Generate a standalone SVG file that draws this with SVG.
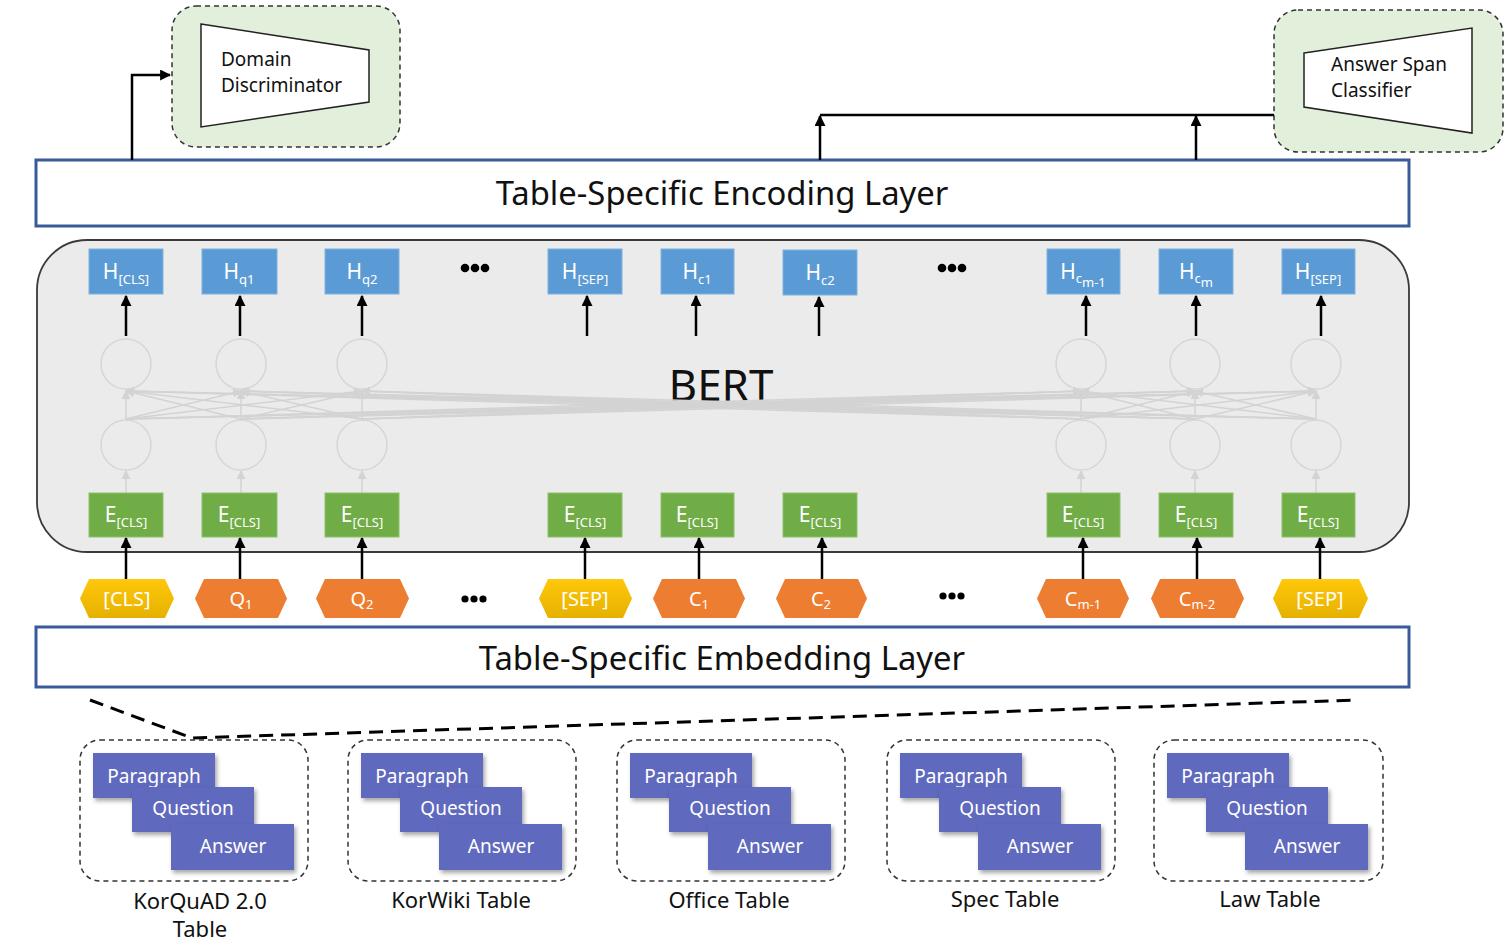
<svg xmlns="http://www.w3.org/2000/svg" width="1508" height="944" viewBox="0 0 1508 944">
<style>
text{font-family:"Noto Sans","Liberation Sans",sans-serif;}
.dbox{fill:#e2efda;stroke:#333;stroke-width:1.5;stroke-dasharray:5 4;}
.trap{fill:#fff;stroke:#222;stroke-width:1.5;}
.lbl{font-size:19px;fill:#111;}
.layer{fill:#fff;stroke:#3b5a9a;stroke-width:3;}
.layertxt{font-size:32.8px;fill:#111;text-anchor:middle;}
.hb{fill:#5b9bd5;stroke:#7fb2e0;stroke-width:1;}
.eb{fill:#70ad47;stroke:#8cc266;stroke-width:1;}
.bt{font-size:21px;fill:#fff;text-anchor:middle;}
.sub{font-size:13px;}
.ora{fill:#ed7d31;}
.yel{fill:url(#yg);}
.tt{font-size:20px;fill:#fff;text-anchor:middle;}
.circ{fill:none;stroke:#d6d6d6;stroke-width:1.5;}
.gl{stroke:#d3d3d3;stroke-width:1.5;fill:none;marker-end:url(#ga);}
.ar{stroke:#000;stroke-width:2.5;fill:none;marker-end:url(#ba);}
.ds{fill:#fff;stroke:#333;stroke-width:1.5;stroke-dasharray:5 4;}
.pr{fill:#5f69bd;filter:url(#sh);}
.pt{font-size:19px;fill:#fff;text-anchor:middle;}
.dl{font-size:22px;fill:#111;text-anchor:middle;}
.dot{fill:#000;}
</style>
<defs>
<linearGradient id="yg" x1="0" y1="0" x2="0" y2="1"><stop offset="0" stop-color="#ffc80a"/><stop offset="1" stop-color="#e6b000"/></linearGradient>
<marker id="ba" viewBox="0 0 10 10" refX="9" refY="5" markerWidth="11" markerHeight="11" markerUnits="userSpaceOnUse" orient="auto"><path d="M0,0 L10,5 L0,10 z" fill="#000"/></marker>
<marker id="ga" viewBox="0 0 10 10" refX="9" refY="5" markerWidth="9" markerHeight="9" markerUnits="userSpaceOnUse" orient="auto"><path d="M0,0 L10,5 L0,10 z" fill="#d3d3d3"/></marker>
<filter id="sh" x="-10%" y="-10%" width="125%" height="130%"><feDropShadow dx="2" dy="3" stdDeviation="2" flood-color="#000" flood-opacity="0.35"/></filter>
</defs>

<g id="domain-discriminator">
<rect class="dbox" x="172" y="6" width="228" height="141" rx="24"/>
<polygon class="trap" points="201,24 369,50 369,102 201,127"/>
<text class="lbl" x="221" y="66">Domain</text>
<text class="lbl" x="221" y="92">Discriminator</text>
</g>

<g id="answer-span-classifier">
<rect class="dbox" x="1274" y="10" width="229" height="142" rx="24"/>
<polygon class="trap" points="1304,53 1472,28 1472,133 1304,107"/>
<text class="lbl" x="1331" y="71">Answer Span</text>
<text class="lbl" x="1331" y="97">Classifier</text>
</g>

<g id="encoding-layer">
<rect class="layer" x="36" y="160" width="1373" height="66"/>
<text class="layertxt" x="722" y="205">Table-Specific Encoding Layer</text>
</g>

<g id="bert">
<rect x="37" y="240" width="1372" height="312" rx="50" fill="#ebebeb" stroke="#3a3a3a" stroke-width="1.8"/>
<text x="721" y="401" font-size="44" fill="#111" text-anchor="middle">BERT</text>
<circle class="circ" cx="126" cy="364" r="25"/><circle class="circ" cx="126" cy="445" r="25"/>
<circle class="circ" cx="241" cy="364" r="25"/><circle class="circ" cx="241" cy="445" r="25"/>
<circle class="circ" cx="362" cy="364" r="25"/><circle class="circ" cx="362" cy="445" r="25"/>
<circle class="circ" cx="1081" cy="364" r="25"/><circle class="circ" cx="1081" cy="445" r="25"/>
<circle class="circ" cx="1195" cy="364" r="25"/><circle class="circ" cx="1195" cy="445" r="25"/>
<circle class="circ" cx="1316" cy="364" r="25"/><circle class="circ" cx="1316" cy="445" r="25"/>
<circle class="dot" cx="465" cy="268" r="4.3"/><circle class="dot" cx="475" cy="268" r="4.3"/><circle class="dot" cx="485" cy="268" r="4.3"/>
<circle class="dot" cx="942" cy="268" r="4.3"/><circle class="dot" cx="952" cy="268" r="4.3"/><circle class="dot" cx="962" cy="268" r="4.3"/>
</g>

<g id="connectors">
<g>
<line class="gl" x1="126" y1="419" x2="126" y2="391"/><line class="gl" x1="126" y1="419" x2="241" y2="391"/><line class="gl" x1="126" y1="419" x2="362" y2="391"/><line class="gl" x1="126" y1="419" x2="1081" y2="391"/><line class="gl" x1="126" y1="419" x2="1195" y2="391"/><line class="gl" x1="126" y1="419" x2="1316" y2="391"/>
<line class="gl" x1="241" y1="419" x2="126" y2="391"/><line class="gl" x1="241" y1="419" x2="241" y2="391"/><line class="gl" x1="241" y1="419" x2="362" y2="391"/><line class="gl" x1="241" y1="419" x2="1081" y2="391"/><line class="gl" x1="241" y1="419" x2="1195" y2="391"/><line class="gl" x1="241" y1="419" x2="1316" y2="391"/>
<line class="gl" x1="362" y1="419" x2="126" y2="391"/><line class="gl" x1="362" y1="419" x2="241" y2="391"/><line class="gl" x1="362" y1="419" x2="362" y2="391"/><line class="gl" x1="362" y1="419" x2="1081" y2="391"/><line class="gl" x1="362" y1="419" x2="1195" y2="391"/><line class="gl" x1="362" y1="419" x2="1316" y2="391"/>
<line class="gl" x1="1081" y1="419" x2="126" y2="391"/><line class="gl" x1="1081" y1="419" x2="241" y2="391"/><line class="gl" x1="1081" y1="419" x2="362" y2="391"/><line class="gl" x1="1081" y1="419" x2="1081" y2="391"/><line class="gl" x1="1081" y1="419" x2="1195" y2="391"/><line class="gl" x1="1081" y1="419" x2="1316" y2="391"/>
<line class="gl" x1="1195" y1="419" x2="126" y2="391"/><line class="gl" x1="1195" y1="419" x2="241" y2="391"/><line class="gl" x1="1195" y1="419" x2="362" y2="391"/><line class="gl" x1="1195" y1="419" x2="1081" y2="391"/><line class="gl" x1="1195" y1="419" x2="1195" y2="391"/><line class="gl" x1="1195" y1="419" x2="1316" y2="391"/>
<line class="gl" x1="1316" y1="419" x2="126" y2="391"/><line class="gl" x1="1316" y1="419" x2="241" y2="391"/><line class="gl" x1="1316" y1="419" x2="362" y2="391"/><line class="gl" x1="1316" y1="419" x2="1081" y2="391"/><line class="gl" x1="1316" y1="419" x2="1195" y2="391"/><line class="gl" x1="1316" y1="419" x2="1316" y2="391"/>
<line class="gl" x1="126" y1="493" x2="126" y2="471"/><line class="gl" x1="241" y1="493" x2="241" y2="471"/><line class="gl" x1="362" y1="493" x2="362" y2="471"/><line class="gl" x1="1081" y1="493" x2="1081" y2="471"/><line class="gl" x1="1195" y1="493" x2="1195" y2="471"/><line class="gl" x1="1316" y1="493" x2="1316" y2="471"/>
</g>
<line class="ar" x1="126" y1="336" x2="126" y2="296"/>
<line class="ar" x1="240" y1="336" x2="240" y2="296"/>
<line class="ar" x1="362" y1="336" x2="362" y2="296"/>
<line class="ar" x1="587" y1="336" x2="587" y2="296"/>
<line class="ar" x1="696" y1="336" x2="696" y2="296"/>
<line class="ar" x1="819" y1="336" x2="819" y2="297"/>
<line class="ar" x1="1086" y1="336" x2="1086" y2="296"/>
<line class="ar" x1="1196" y1="336" x2="1196" y2="296"/>
<line class="ar" x1="1321" y1="336" x2="1321" y2="296"/>
<line class="ar" x1="126" y1="579" x2="126" y2="538"/>
<line class="ar" x1="240" y1="579" x2="240" y2="538"/>
<line class="ar" x1="362" y1="579" x2="362" y2="538"/>
<line class="ar" x1="585" y1="579" x2="585" y2="538"/>
<line class="ar" x1="699" y1="579" x2="699" y2="538"/>
<line class="ar" x1="822" y1="579" x2="822" y2="538"/>
<line class="ar" x1="1083" y1="579" x2="1083" y2="538"/>
<line class="ar" x1="1197" y1="579" x2="1197" y2="538"/>
<line class="ar" x1="1320" y1="579" x2="1320" y2="538"/>
<polyline class="ar" points="132,160 132,75 170,75"/>
<line x1="1274" y1="115" x2="820" y2="115" stroke="#000" stroke-width="2.5"/>
<line class="ar" x1="820" y1="160" x2="820" y2="116"/>
<line class="ar" x1="1196" y1="160" x2="1196" y2="116"/>
<polyline points="90,700 192,738 1357,700" fill="none" stroke="#000" stroke-width="3" stroke-dasharray="14 8"/>
</g>

<g id="h-cls"><rect class="hb" x="89" y="249" width="74" height="45"/><text class="bt" x="126" y="279">H<tspan class="sub" dy="5">[CLS]</tspan></text></g>
<g id="h-q1"><rect class="hb" x="202" y="249" width="75" height="45"/><text class="bt" x="239" y="279">H<tspan class="sub" dy="5">q1</tspan></text></g>
<g id="h-q2"><rect class="hb" x="325" y="249" width="74" height="45"/><text class="bt" x="362" y="279">H<tspan class="sub" dy="5">q2</tspan></text></g>
<g id="h-sep1"><rect class="hb" x="548" y="249" width="74" height="45"/><text class="bt" x="585" y="279">H<tspan class="sub" dy="5">[SEP]</tspan></text></g>
<g id="h-c1"><rect class="hb" x="661" y="249" width="73" height="45"/><text class="bt" x="697" y="279">H<tspan class="sub" dy="5">c1</tspan></text></g>
<g id="h-c2"><rect class="hb" x="783" y="250" width="74" height="45"/><text class="bt" x="820" y="280">H<tspan class="sub" dy="5">c2</tspan></text></g>
<g id="h-cm1"><rect class="hb" x="1047" y="249" width="73" height="45"/><text class="bt" x="1083" y="279">H<tspan class="sub" dy="4">c</tspan><tspan class="sub" dy="4">m-1</tspan></text></g>
<g id="h-cm"><rect class="hb" x="1159" y="249" width="74" height="45"/><text class="bt" x="1196" y="279">H<tspan class="sub" dy="4">c</tspan><tspan class="sub" dy="4">m</tspan></text></g>
<g id="h-sep2"><rect class="hb" x="1282" y="249" width="73" height="45"/><text class="bt" x="1318" y="279">H<tspan class="sub" dy="5">[SEP]</tspan></text></g>

<g id="e-1"><rect class="eb" x="89" y="493" width="74" height="44"/><text class="bt" x="126" y="522">E<tspan class="sub" dy="5">[CLS]</tspan></text></g>
<g id="e-2"><rect class="eb" x="202" y="493" width="75" height="44"/><text class="bt" x="239" y="522">E<tspan class="sub" dy="5">[CLS]</tspan></text></g>
<g id="e-3"><rect class="eb" x="325" y="493" width="74" height="44"/><text class="bt" x="362" y="522">E<tspan class="sub" dy="5">[CLS]</tspan></text></g>
<g id="e-4"><rect class="eb" x="548" y="493" width="74" height="44"/><text class="bt" x="585" y="522">E<tspan class="sub" dy="5">[CLS]</tspan></text></g>
<g id="e-5"><rect class="eb" x="661" y="493" width="73" height="44"/><text class="bt" x="697" y="522">E<tspan class="sub" dy="5">[CLS]</tspan></text></g>
<g id="e-6"><rect class="eb" x="783" y="493" width="74" height="44"/><text class="bt" x="820" y="522">E<tspan class="sub" dy="5">[CLS]</tspan></text></g>
<g id="e-7"><rect class="eb" x="1047" y="493" width="73" height="44"/><text class="bt" x="1083" y="522">E<tspan class="sub" dy="5">[CLS]</tspan></text></g>
<g id="e-8"><rect class="eb" x="1159" y="493" width="74" height="44"/><text class="bt" x="1196" y="522">E<tspan class="sub" dy="5">[CLS]</tspan></text></g>
<g id="e-9"><rect class="eb" x="1282" y="493" width="73" height="44"/><text class="bt" x="1318" y="522">E<tspan class="sub" dy="5">[CLS]</tspan></text></g>

<g id="tok-cls"><polygon class="yel" points="80,598.5 89,579 165,579 174,598.5 165,618 89,618"/><text class="tt" x="127" y="606">[CLS]</text></g>
<g id="tok-q1"><polygon class="ora" points="195,598.5 204,579 278,579 287,598.5 278,618 204,618"/><text class="tt" x="241" y="606">Q<tspan class="sub" dy="3">1</tspan></text></g>
<g id="tok-q2"><polygon class="ora" points="316,598.5 325,579 400,579 409,598.5 400,618 325,618"/><text class="tt" x="362" y="606">Q<tspan class="sub" dy="3">2</tspan></text></g>
<g id="dots1"><circle class="dot" cx="465" cy="599" r="3.6"/><circle class="dot" cx="474" cy="599" r="3.6"/><circle class="dot" cx="483" cy="599" r="3.6"/></g>
<g id="tok-sep1"><polygon class="yel" points="539,598.5 548,579 623,579 632,598.5 623,618 548,618"/><text class="tt" x="585" y="606">[SEP]</text></g>
<g id="tok-c1"><polygon class="ora" points="653,598.5 662,579 736,579 745,598.5 736,618 662,618"/><text class="tt" x="699" y="606">C<tspan class="sub" dy="3">1</tspan></text></g>
<g id="tok-c2"><polygon class="ora" points="776,598.5 785,579 858,579 867,598.5 858,618 785,618"/><text class="tt" x="821" y="606">C<tspan class="sub" dy="3">2</tspan></text></g>
<g id="dots2"><circle class="dot" cx="943" cy="596" r="3.6"/><circle class="dot" cx="952" cy="596" r="3.6"/><circle class="dot" cx="961" cy="596" r="3.6"/></g>
<g id="tok-cm1"><polygon class="ora" points="1037,598.5 1046,579 1120,579 1129,598.5 1120,618 1046,618"/><text class="tt" x="1083" y="606">C<tspan class="sub" dy="3">m-1</tspan></text></g>
<g id="tok-cm2"><polygon class="ora" points="1151,598.5 1160,579 1235,579 1244,598.5 1235,618 1160,618"/><text class="tt" x="1197" y="606">C<tspan class="sub" dy="3">m-2</tspan></text></g>
<g id="tok-sep2"><polygon class="yel" points="1273,598.5 1282,579 1359,579 1368,598.5 1359,618 1282,618"/><text class="tt" x="1320" y="606">[SEP]</text></g>

<g id="embedding-layer">
<rect class="layer" x="36" y="627" width="1373" height="60"/>
<text class="layertxt" x="722" y="670">Table-Specific Embedding Layer</text>
</g>

<g id="ds-korquad">
<rect class="ds" x="80" y="740" width="228" height="141" rx="20"/>
<rect class="pr" x="93" y="753" width="122" height="45"/><text class="pt" x="154" y="783">Paragraph</text>
<rect class="pr" x="132" y="787" width="122" height="45"/><text class="pt" x="193" y="815">Question</text>
<rect class="pr" x="171" y="824" width="123" height="46"/><text class="pt" x="233" y="853">Answer</text>
<text class="dl" x="200" y="909">KorQuAD 2.0</text><text class="dl" x="200" y="937">Table</text>
</g>
<g id="ds-korwiki">
<rect class="ds" x="348" y="740" width="228" height="141" rx="20"/>
<rect class="pr" x="361" y="753" width="122" height="45"/><text class="pt" x="422" y="783">Paragraph</text>
<rect class="pr" x="400" y="787" width="122" height="45"/><text class="pt" x="461" y="815">Question</text>
<rect class="pr" x="439" y="824" width="123" height="46"/><text class="pt" x="501" y="853">Answer</text>
<text class="dl" x="461" y="908">KorWiki Table</text>
</g>
<g id="ds-office">
<rect class="ds" x="617" y="740" width="228" height="141" rx="20"/>
<rect class="pr" x="630" y="753" width="122" height="45"/><text class="pt" x="691" y="783">Paragraph</text>
<rect class="pr" x="669" y="787" width="122" height="45"/><text class="pt" x="730" y="815">Question</text>
<rect class="pr" x="708" y="824" width="123" height="46"/><text class="pt" x="770" y="853">Answer</text>
<text class="dl" x="729" y="908">Office Table</text>
</g>
<g id="ds-spec">
<rect class="ds" x="887" y="740" width="228" height="141" rx="20"/>
<rect class="pr" x="900" y="753" width="122" height="45"/><text class="pt" x="961" y="783">Paragraph</text>
<rect class="pr" x="939" y="787" width="122" height="45"/><text class="pt" x="1000" y="815">Question</text>
<rect class="pr" x="978" y="824" width="123" height="46"/><text class="pt" x="1040" y="853">Answer</text>
<text class="dl" x="1005" y="907">Spec Table</text>
</g>
<g id="ds-law">
<rect class="ds" x="1154" y="740" width="229" height="141" rx="20"/>
<rect class="pr" x="1167" y="753" width="122" height="45"/><text class="pt" x="1228" y="783">Paragraph</text>
<rect class="pr" x="1206" y="787" width="122" height="45"/><text class="pt" x="1267" y="815">Question</text>
<rect class="pr" x="1245" y="824" width="123" height="46"/><text class="pt" x="1307" y="853">Answer</text>
<text class="dl" x="1270" y="907">Law Table</text>
</g>
</svg>
